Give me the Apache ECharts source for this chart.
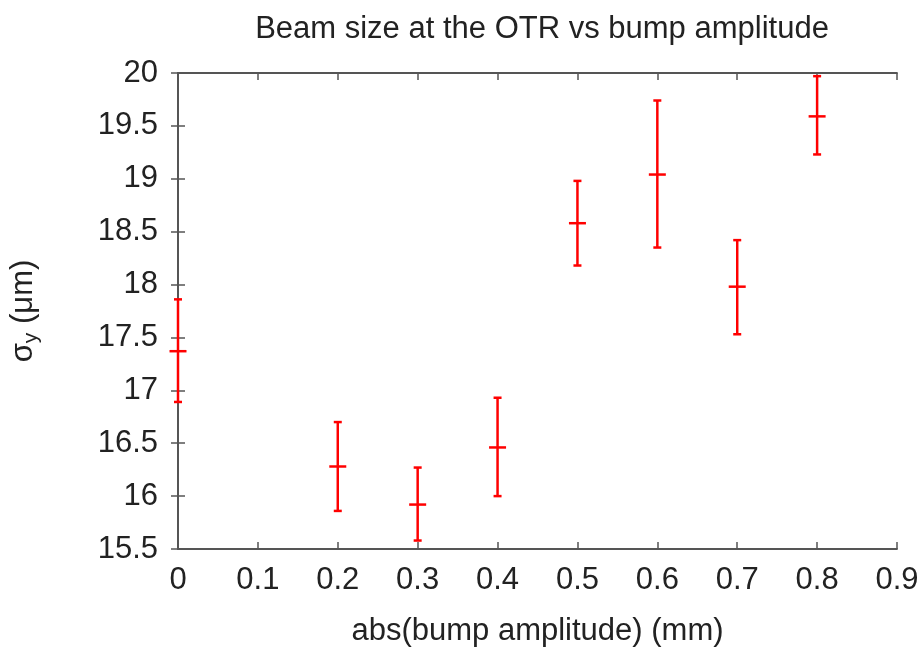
<!DOCTYPE html>
<html>
<head>
<meta charset="utf-8">
<script src="https://cdn.jsdelivr.net/npm/echarts@6/dist/echarts.min.js"></script>
<style>
	html, body { margin: 0; padding: 0; background: #fff; }
	#chart { width: 923px; height: 648px; }
</style>
</head>
<body>
<div id="chart"></div>
<script>
// bump amplitude (mm) and measured sigma_y (um) with error bounds
const amplitude = [0, 0.2, 0.3, 0.4, 0.5, 0.6, 0.7, 0.8]
const sigmaY = [17.37, 16.28, 15.92, 16.46, 18.58, 19.04, 17.98, 19.59]
const sigmaLow = [16.89, 15.86, 15.58, 16.0, 18.18, 18.35, 17.53, 19.23]
const sigmaHigh = [17.86, 16.7, 16.27, 16.93, 18.98, 19.74, 18.42, 19.97]

const font = "Liberation Sans, Arial, sans-serif"
const fontSize = 31
const axisColor = "#555"
const textColor = "#222"

const errData = amplitude.map((x, i) => [x, sigmaY[i], sigmaLow[i], sigmaHigh[i]])

const renderErr = (params, api) => {
	const c = api.coord([api.value(0), api.value(1)])
	const lo = api.coord([api.value(0), api.value(2)])
	const hi = api.coord([api.value(0), api.value(3)])
	const cap = 4
	const cross = 8.5
	const style = { stroke: "#ff0000", lineWidth: 2.5 }
	return {
		type: "group",
		children: [
			{ type: "line", shape: { x1: lo[0], y1: lo[1], x2: hi[0], y2: hi[1] }, style },
			{ type: "line", shape: { x1: lo[0] - cap, y1: lo[1], x2: lo[0] + cap, y2: lo[1] }, style },
			{ type: "line", shape: { x1: hi[0] - cap, y1: hi[1], x2: hi[0] + cap, y2: hi[1] }, style },
			{ type: "line", shape: { x1: c[0] - cross, y1: c[1], x2: c[0] + cross, y2: c[1] }, style }
		]
	}
}

const tickStyle = { show: true, inside: true, length: 7, lineStyle: { color: axisColor, width: 1.5 } }
const lineStyle = { show: true, lineStyle: { color: axisColor, width: 1.8 } }

const option = {
	animation: false,
	title: {
		text: "Beam size at the OTR vs bump amplitude",
		top: 9,
		left: 537,
		textAlign: "center",
		textStyle: { fontFamily: font, fontSize: fontSize, fontWeight: "normal", color: textColor }
	},
	grid: { left: 178, right: 26, top: 73, bottom: 99, outerBoundsMode: "none", containLabel: false },
	xAxis: [
		{
			type: "value",
			min: 0,
			max: 0.9,
			interval: 0.1,
			name: "abs(bump amplitude) (mm)",
			nameLocation: "middle",
			nameGap: 67,
			nameTextStyle: { fontFamily: font, fontSize: fontSize, color: textColor },
			axisLine: lineStyle,
			axisTick: tickStyle,
			axisLabel: {
				fontFamily: font,
				fontSize: fontSize,
				color: textColor,
				margin: 16,
				formatter: v => String(Math.round(v * 10) / 10)
			},
			splitLine: { show: false }
		},
		{
			type: "value",
			position: "top",
			min: 0,
			max: 0.9,
			interval: 0.1,
			axisLine: lineStyle,
			axisTick: tickStyle,
			axisLabel: { show: false },
			splitLine: { show: false }
		}
	],
	yAxis: [
		{
			type: "value",
			min: 15.5,
			max: 20,
			interval: 0.5,
			name: "{s|σ}{sub|y}{s| (μm)}",
			nameLocation: "middle",
			nameGap: 136,
			nameRotate: 90,
			nameTextStyle: {
				rich: {
					s: { fontFamily: font, fontSize: fontSize, color: textColor },
					sub: { fontFamily: font, fontSize: 21, color: textColor, verticalAlign: "bottom", padding: [17, 0, 0, 0] }
				}
			},
			axisLine: lineStyle,
			axisTick: tickStyle,
			axisLabel: { fontFamily: font, fontSize: fontSize, color: textColor, margin: 20 },
			splitLine: { show: false }
		},
		{
			type: "value",
			position: "right",
			min: 15.5,
			max: 20,
			interval: 0.5,
			axisLine: lineStyle,
			axisTick: tickStyle,
			axisLabel: { show: false },
			splitLine: { show: false }
		}
	],
	series: [
		{
			type: "custom",
			xAxisIndex: 0,
			yAxisIndex: 0,
			renderItem: renderErr,
			encode: { x: 0, y: [1, 2, 3] },
			data: errData,
			clip: false
		}
	]
}

const chart = echarts.init(document.getElementById("chart"))
chart.setOption(option)
</script>
</body>
</html>
